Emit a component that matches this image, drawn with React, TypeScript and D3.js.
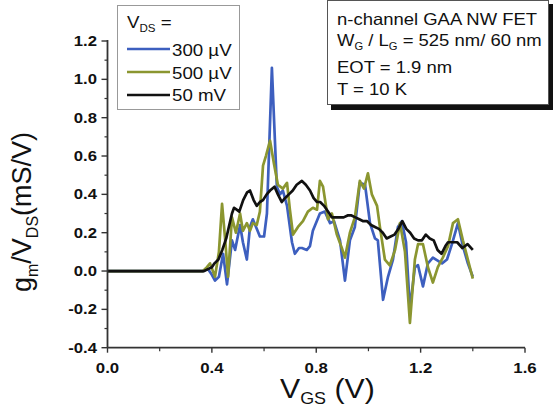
import React from "react";
import * as d3 from "d3";

const vgs300 = [0, 0.366, 0.385, 0.4, 0.412, 0.427, 0.443, 0.458, 0.477, 0.489, 0.508, 0.519, 0.534, 0.546, 0.557, 0.572, 0.584, 0.6, 0.611, 0.63, 0.649, 0.661, 0.672, 0.688, 0.707, 0.718, 0.734, 0.745, 0.764, 0.776, 0.787, 0.814, 0.833, 0.853, 0.868, 0.891, 0.91, 0.929, 0.948, 0.967, 0.987, 1.006, 1.025, 1.036, 1.056, 1.075, 1.094, 1.113, 1.128, 1.144, 1.159, 1.178, 1.19, 1.209, 1.228, 1.247, 1.282, 1.301, 1.32, 1.343, 1.362, 1.381, 1.4];
const gm300 = [0, 0, 0.01, -0.02, -0.05, -0.03, 0.09, -0.07, 0.16, 0.11, 0.24, 0.15, 0.06, 0.23, 0.27, 0.22, 0.18, 0.18, 0.3, 1.06, 0.44, 0.4, 0.42, 0.34, 0.15, 0.09, 0.12, 0.12, 0.11, 0.13, 0.21, 0.3, 0.31, 0.25, 0.26, 0.16, -0.05, 0.16, 0.23, 0.46, 0.45, 0.25, 0.17, 0.16, -0.15, -0.03, 0.06, 0.23, 0.26, 0.15, -0.2, 0.02, 0.03, -0.08, 0.04, 0.07, 0.04, 0.06, 0.14, 0.25, 0.13, 0.04, -0.03];

const vgs500 = [0, 0.366, 0.381, 0.393, 0.412, 0.427, 0.439, 0.45, 0.462, 0.477, 0.492, 0.508, 0.519, 0.534, 0.546, 0.557, 0.572, 0.584, 0.596, 0.607, 0.623, 0.638, 0.653, 0.672, 0.688, 0.699, 0.711, 0.73, 0.749, 0.768, 0.787, 0.803, 0.814, 0.826, 0.845, 0.86, 0.879, 0.898, 0.91, 0.929, 0.948, 0.967, 0.983, 0.998, 1.013, 1.033, 1.044, 1.063, 1.082, 1.102, 1.121, 1.14, 1.159, 1.178, 1.19, 1.209, 1.228, 1.247, 1.266, 1.285, 1.305, 1.324, 1.343, 1.362, 1.381, 1.4];
const gm500 = [0, 0, 0.02, 0.04, -0.03, 0.1, 0.35, 0.18, -0.03, 0.28, 0.2, 0.3, 0.21, 0.25, 0.21, 0.25, 0.24, 0.31, 0.55, 0.6, 0.68, 0.56, 0.45, 0.43, 0.46, 0.32, 0.19, 0.23, 0.26, 0.31, 0.33, 0.32, 0.47, 0.44, 0.27, 0.3, 0.19, 0.12, 0.07, 0.2, 0.28, 0.47, 0.43, 0.51, 0.4, 0.34, 0.23, 0.06, 0.03, 0.11, 0.25, 0.1, -0.27, 0.06, 0.14, 0.14, 0.02, -0.06, 0.02, 0.07, 0.13, 0.25, 0.27, 0.16, 0.06, -0.04];

const vgs50 = [0, 0.37, 0.385, 0.4, 0.41, 0.425, 0.44, 0.455, 0.465, 0.477, 0.485, 0.495, 0.505, 0.52, 0.535, 0.546, 0.56, 0.572, 0.584, 0.596, 0.61, 0.623, 0.64, 0.653, 0.668, 0.68, 0.695, 0.71, 0.725, 0.745, 0.76, 0.776, 0.79, 0.803, 0.815, 0.83, 0.845, 0.86, 0.875, 0.89, 0.905, 0.92, 0.935, 0.95, 0.965, 0.98, 0.995, 1.01, 1.025, 1.04, 1.055, 1.07, 1.085, 1.1, 1.115, 1.13, 1.145, 1.16, 1.175, 1.19, 1.205, 1.22, 1.235, 1.25, 1.265, 1.28, 1.295, 1.305, 1.32, 1.34, 1.36, 1.38, 1.4];
const gm50 = [0, 0, 0.01, 0.02, 0.04, 0.06, 0.11, 0.17, 0.23, 0.3, 0.33, 0.32, 0.31, 0.37, 0.41, 0.42, 0.37, 0.34, 0.36, 0.37, 0.4, 0.42, 0.44, 0.4, 0.36, 0.38, 0.4, 0.42, 0.45, 0.47, 0.45, 0.42, 0.38, 0.36, 0.36, 0.34, 0.31, 0.28, 0.28, 0.28, 0.28, 0.29, 0.29, 0.28, 0.27, 0.26, 0.26, 0.24, 0.23, 0.22, 0.2, 0.17, 0.18, 0.19, 0.22, 0.26, 0.22, 0.2, 0.17, 0.16, 0.16, 0.19, 0.17, 0.16, 0.11, 0.09, 0.13, 0.15, 0.15, 0.15, 0.12, 0.14, 0.11];

const xTicks = [0, 0.4, 0.8, 1.2, 1.6];
const xMinor = [0.2, 0.6, 1.0, 1.4];
const yTicks = [-0.4, -0.2, 0, 0.2, 0.4, 0.6, 0.8, 1.0, 1.2];
const yMinor = [-0.3, -0.1, 0.1, 0.3, 0.5, 0.7, 0.9, 1.1];

const seriesNames = ["300 µV", "500 µV", "50 mV"];
const seriesColors = ["#3d5fbf", "#8b9630", "#111111"];
const seriesX = [vgs300, vgs500, vgs50];
const seriesY = [gm300, gm500, gm50];

const annotationLines = ["n-channel GAA NW FET", "EOT = 1.9 nm", "T = 10 K"];

function T(props: { x: number; y: number; sx?: number; anchor?: string; size: number; weight?: string; children: React.ReactNode }) {
  const { x, y, sx = 1.13, anchor = "start", size, weight = "normal", children } = props;
  return (
    <text transform={`translate(${x},${y}) scale(${sx},1)`} textAnchor={anchor} fontSize={size} fontWeight={weight} fill="#111">
      {children}
    </text>
  );
}

export default function App() {
  const W = 553, H = 410;
  const x = d3.scaleLinear().domain([0, 1.6]).range([107.5, 525]);
  const y = d3.scaleLinear().domain([-0.4, 1.2]).range([347.7, 41]);
  const line = d3.line<[number, number]>().x(d => x(d[0])).y(d => y(d[1]));
  const font = "'Liberation Sans', Arial, sans-serif";
  const axisColor = "#333";

  return (
    <svg width={W} height={H} style={{ position: "absolute", left: 0, top: 0, background: "#fff" }} fontFamily={font}>
      <rect x={0} y={0} width={W} height={H} fill="#fff" />
      {/* data */}
      {seriesX.map((xs, i) => (
        <path key={i} d={line(xs.map((v, j) => [v, seriesY[i][j]]) as [number, number][]) || ""}
          fill="none" stroke={seriesColors[i]} strokeWidth={2.7} strokeLinejoin="round" />
      ))}
      {/* axes */}
      <line x1={x(0)} x2={x(0)} y1={y(1.2) - 1} y2={y(-0.4)} stroke={axisColor} strokeWidth={1.8} />
      <line x1={x(0)} x2={x(1.6)} y1={y(-0.4)} y2={y(-0.4)} stroke={axisColor} strokeWidth={1.8} />
      {yTicks.map(t => (
        <g key={"yt" + t}>
          <line x1={x(0) - 6} x2={x(0)} y1={y(t)} y2={y(t)} stroke={axisColor} strokeWidth={1.4} />
          <T x={97} y={y(t) + 5} anchor="end" size={14.5} weight="bold" sx={1.15}>{t.toFixed(1)}</T>
        </g>
      ))}
      {yMinor.map(t => (
        <line key={"ym" + t} x1={x(0) - 3} x2={x(0)} y1={y(t)} y2={y(t)} stroke={axisColor} strokeWidth={1.2} />
      ))}
      {xTicks.map(t => (
        <g key={"xt" + t}>
          <line x1={x(t)} x2={x(t)} y1={y(-0.4)} y2={y(-0.4) + 5} stroke={axisColor} strokeWidth={1.4} />
          <T x={x(t)} y={373} anchor="middle" size={15} weight="bold" sx={1.12}>{t.toFixed(1)}</T>
        </g>
      ))}
      {xMinor.map(t => (
        <line key={"xm" + t} x1={x(t)} x2={x(t)} y1={y(-0.4)} y2={y(-0.4) + 3.5} stroke={axisColor} strokeWidth={1.2} />
      ))}
      {/* axis titles */}
      <T x={280} y={398} size={27} sx={1.12}>
        V<tspan fontSize={16} dy={6}>GS</tspan><tspan dy={-6} fontSize={27}> (V)</tspan>
      </T>
      <text transform="translate(31,212) rotate(-90)" textAnchor="middle" fontSize={27} fill="#111">
        g<tspan fontSize={16} dy={7}>m</tspan><tspan dy={-7}>/V</tspan><tspan fontSize={16} dy={7}>DS</tspan><tspan dy={-7}>(mS/V)</tspan>
      </text>
      {/* legend */}
      <rect x={117.5} y={5.5} width={122} height={104} fill="#fff" stroke="#999" strokeWidth={1} />
      <T x={127} y={28} size={17} sx={1.1}>
        V<tspan fontSize={10.5} dy={4}>DS</tspan><tspan dy={-4} fontSize={17}> =</tspan>
      </T>
      {seriesNames.map((n, i) => (
        <g key={n}>
          <line x1={127} x2={170} y1={49 + i * 23} y2={49 + i * 23} stroke={seriesColors[i]} strokeWidth={2.7} />
          <T x={172} y={56 + i * 22.5} size={17} sx={1.1}>{n}</T>
        </g>
      ))}
      {/* annotation box */}
      <rect x={331} y={4} width={222} height={106} fill="#111" />
      <rect x={327.5} y={0.5} width={221} height={104} fill="#fff" stroke="#555" strokeWidth={1} />
      <T x={337} y={25} size={16.5} sx={1.12}>{annotationLines[0]}</T>
      <T x={337} y={46} size={16.5} sx={1.12}>
        W<tspan fontSize={10} dy={4}>G</tspan><tspan dy={-4} fontSize={16.5}> / L</tspan><tspan fontSize={10} dy={4}>G</tspan><tspan dy={-4} fontSize={16.5}> = 525 nm/ 60 nm</tspan>
      </T>
      <T x={337} y={73} size={16.5} sx={1.12}>{annotationLines[1]}</T>
      <T x={337} y={95} size={16.5} sx={1.12}>{annotationLines[2]}</T>
    </svg>
  );
}
